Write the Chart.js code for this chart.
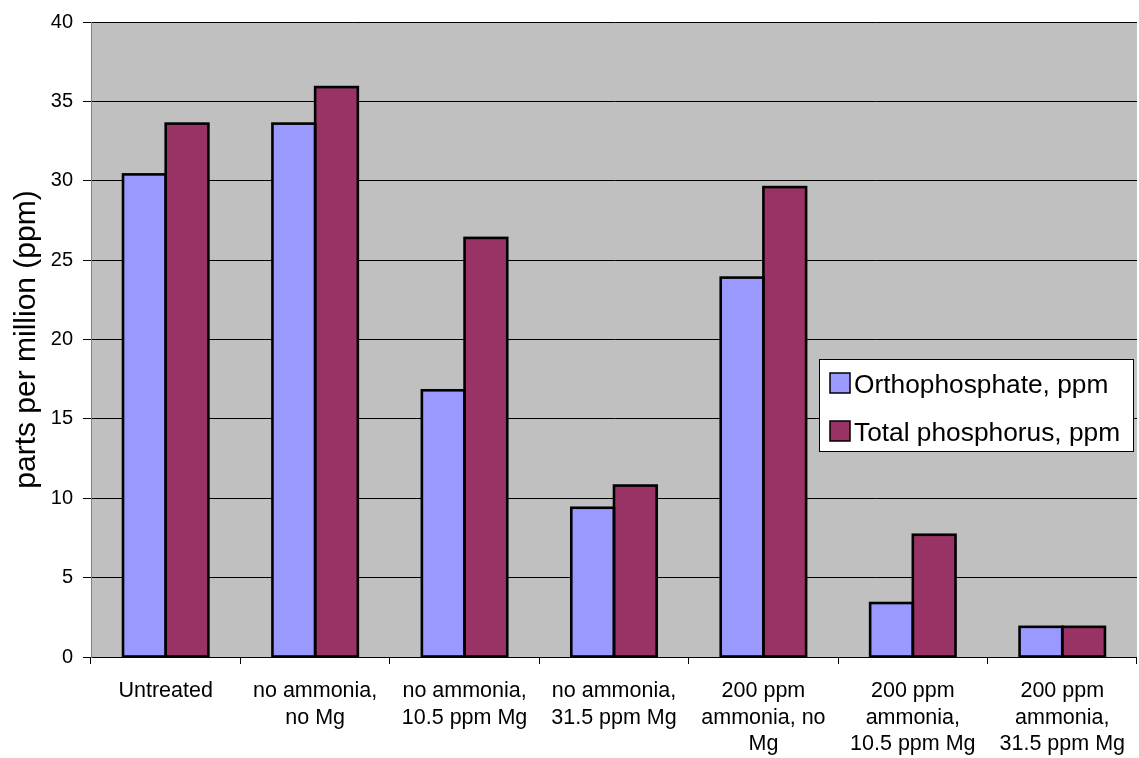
<!DOCTYPE html>
<html>
<head>
<meta charset="utf-8">
<script src="https://cdn.jsdelivr.net/npm/chart.js@4.4.1/dist/chart.umd.min.js"></script>
<style>
  html, body { margin: 0; padding: 0; background: #ffffff; }
  #wrap { width: 1139px; height: 758px; }
</style>
</head>
<body>
<div id="wrap"><canvas id="chart" width="1139" height="758"></canvas></div>
<script>
// Treatment groups along the x axis (multi-line labels)
const categories = [
  'Untreated',
  ['no ammonia,', 'no Mg'],
  ['no ammonia,', '10.5 ppm Mg'],
  ['no ammonia,', '31.5 ppm Mg'],
  ['200 ppm', 'ammonia, no', 'Mg'],
  ['200 ppm', 'ammonia,', '10.5 ppm Mg'],
  ['200 ppm', 'ammonia,', '31.5 ppm Mg']
];

// Measured concentrations, ppm
const orthophosphate   = [30.4, 33.6, 16.8, 9.4, 23.9, 3.4, 1.9];
const totalPhosphorus  = [33.6, 35.9, 26.4, 10.8, 29.6, 7.7, 1.9];

// Series names
const seriesNames = ['Orthophosphate, ppm', 'Total phosphorus, ppm'];

// Value axis
const yMin = 0, yMax = 40, yStep = 5;
const yTitle = 'parts per million (ppm)';

const FONT = '"Liberation Sans", Arial, Helvetica, sans-serif';

// Grey plotting area behind the bars
const plotBackground = {
  id: 'plotBackground',
  beforeDraw(chart) {
    const { ctx, chartArea: a } = chart;
    ctx.save();
    ctx.fillStyle = '#C0C0C0';
    ctx.fillRect(a.left, a.top, a.right - a.left, a.bottom - a.top);
    ctx.restore();
  }
};

// Black outlines centred on each bar's edges, so neighbouring bars share one line
const barOutlines = {
  id: 'barOutlines',
  afterDatasetsDraw(chart, args, o) {
    const ctx = chart.ctx;
    ctx.save();
    ctx.strokeStyle = o.color;
    ctx.lineWidth = o.width;
    ctx.lineJoin = 'miter';
    chart.data.datasets.forEach((ds, i) => {
      chart.getDatasetMeta(i).data.forEach(bar => {
        const p = bar.getProps(['x', 'y', 'base', 'width'], true);
        const left = p.x - p.width / 2;
        const top = Math.min(p.y, p.base);
        const h = Math.abs(p.base - p.y);
        ctx.strokeRect(left, top, p.width, h);
      });
    });
    ctx.restore();
  }
};

// Boxed legend sitting inside the plot on the right
const boxLegend = {
  id: 'boxLegend',
  afterDraw(chart, args, o) {
    const ctx = chart.ctx;
    ctx.save();
    ctx.fillStyle = '#ffffff';
    ctx.fillRect(o.x, o.y, o.width, o.height);
    ctx.strokeStyle = '#000000';
    ctx.lineWidth = 1;
    ctx.strokeRect(o.x + 0.5, o.y + 0.5, o.width - 1, o.height - 1);
    ctx.font = o.fontSize + 'px ' + FONT;
    ctx.textBaseline = 'alphabetic';
    ctx.textAlign = 'left';
    chart.data.datasets.forEach((ds, i) => {
      const base = o.baselines[i];
      const sy = base - o.swatch;
      ctx.fillStyle = ds.backgroundColor;
      ctx.fillRect(o.swatchX, sy, o.swatch, o.swatch);
      ctx.lineWidth = 1.5;
      ctx.strokeStyle = '#000000';
      ctx.strokeRect(o.swatchX, sy, o.swatch, o.swatch);
      ctx.fillStyle = '#000000';
      ctx.fillText(ds.label, o.textX, base);
    });
    ctx.restore();
  }
};

new Chart(document.getElementById('chart'), {
  type: 'bar',
  data: {
    labels: categories,
    datasets: [
      {
        label: seriesNames[0],
        data: orthophosphate,
        backgroundColor: '#9999FF',
        borderWidth: 0
      },
      {
        label: seriesNames[1],
        data: totalPhosphorus,
        backgroundColor: '#993366',
        borderWidth: 0
      }
    ]
  },
  options: {
    responsive: false,
    animation: false,
    devicePixelRatio: 1,
    categoryPercentage: 2 / 3.5,
    barPercentage: 1,
    layout: { padding: { left: 0, right: 0, top: 20, bottom: 0 } },
    plugins: {
      legend: { display: false },
      tooltip: { enabled: false },
      barOutlines: { color: '#000000', width: 2.6 },
      boxLegend: {
        x: 819, y: 359, width: 315, height: 93,
        swatchX: 830, swatch: 20, textX: 854,
        baselines: [393, 441], fontSize: 26.3
      }
    },
    scales: {
      x: {
        offset: true,
        grid: {
          offset: true,
          drawOnChartArea: false,
          drawTicks: true,
          tickLength: 7,
          color: '#000000'
        },
        border: { display: true, color: '#000000', width: 1 },
        ticks: {
          color: '#000000',
          font: { family: FONT, size: 21.5, lineHeight: 1.235 },
          padding: 14,
          maxRotation: 0,
          minRotation: 0,
          autoSkip: false
        },
        afterFit(scale) { scale.height = 101; }
      },
      y: {
        min: yMin,
        max: yMax,
        grid: {
          color: '#000000',
          lineWidth: 1,
          drawTicks: true,
          tickLength: 8
        },
        border: { display: true, color: '#808080', width: 1 },
        ticks: {
          stepSize: yStep,
          color: '#000000',
          font: { family: FONT, size: 20 },
          padding: 10
        },
        title: {
          display: true,
          text: yTitle,
          color: '#000000',
          font: { family: FONT, size: 30 },
          padding: { top: 9, bottom: 0 }
        },
        afterFit(scale) { scale.width = 91; }
      }
    }
  },
  plugins: [plotBackground, barOutlines, boxLegend]
});
</script>
</body>
</html>
